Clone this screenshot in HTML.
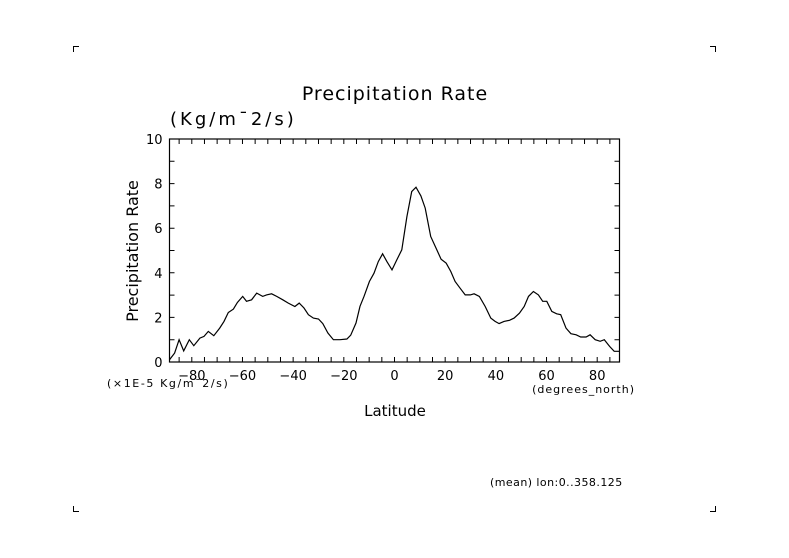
<!DOCTYPE html>
<html><head><meta charset="utf-8"><style>
body{margin:0;background:#fff;}
svg{display:block;font-family:"DejaVu Sans","Liberation Sans",sans-serif;}
</style></head><body>
<svg id="chart" width="789" height="558" viewBox="0 0 789 558" xmlns="http://www.w3.org/2000/svg">
<g stroke="#000" stroke-width="1" fill="none">
<path d="M73.5 52V46.5H79"/><path d="M710 46.5H715.5V52"/><path d="M73.5 506V511.5H79"/><path d="M710 511.5H715.5V506"/>
</g>
<text x="395" y="100" font-size="19" letter-spacing="1" text-anchor="middle">Precipitation Rate</text>
<text x="170" y="125" font-size="18" letter-spacing="3">(Kg/m¯2/s)</text>
<text x="0" y="0" font-size="16" text-anchor="middle" transform="translate(138,251) rotate(-90)">Precipitation Rate</text>
<text x="395" y="416" font-size="15" text-anchor="middle">Latitude</text>
<text x="107" y="387" font-size="11" letter-spacing="1.6">(×1E-5 Kg/m¯2/s)</text>
<text x="635" y="393" font-size="11" letter-spacing="1" text-anchor="end">(degrees_north)</text>
<text x="490" y="486" font-size="11" letter-spacing="0.45">(mean) lon:0..358.125</text>
<g id="axes"></g>
<g id="series"></g>
</svg>
<script>
const lats=[-88.8,-86.8,-85,-83.2,-81,-79.2,-76.8,-75.2,-73.5,-71.3,-69,-67.3,-65.6,-63.6,-62,-59.9,-58.4,-56.4,-54.4,-52,-50.5,-48.5,-46.5,-44.1,-41.9,-39.3,-37.6,-35.7,-34,-32,-30,-28.3,-26.3,-24.1,-21.5,-18.8,-17.3,-15.2,-13.6,-12,-9.9,-8.1,-6.4,-4.7,-3,-1,0.9,2.9,4.9,6.8,8.5,10.4,12.1,14.3,16.4,18.4,20.4,22.2,23.9,25.9,27.9,29.9,31.4,33.5,35.8,38,39.7,41.3,43.2,45.4,47.2,49.3,51.2,52.9,54.8,56.8,58.5,60.1,62.1,64,65.6,67.7,69.6,71.7,73.5,75.6,77.2,79.2,81.2,82.8,84.9,86.7,88.6];
const rates=[0.1,0.4,1.0,0.5,1.0,0.73,1.07,1.15,1.37,1.18,1.52,1.82,2.22,2.37,2.67,2.94,2.72,2.79,3.09,2.94,3.01,3.06,2.94,2.79,2.64,2.49,2.64,2.42,2.12,1.97,1.93,1.72,1.3,1.0,1.0,1.03,1.2,1.75,2.5,2.95,3.61,3.98,4.5,4.85,4.5,4.13,4.58,5.03,6.52,7.64,7.84,7.45,6.9,5.63,5.1,4.61,4.43,4.06,3.61,3.31,3.01,3.01,3.06,2.94,2.49,1.97,1.82,1.72,1.82,1.87,1.97,2.19,2.49,2.94,3.16,3.01,2.72,2.72,2.27,2.16,2.12,1.52,1.27,1.22,1.12,1.12,1.22,1.0,0.93,1.0,0.7,0.48,0.48];
const xTicks=[-80,-60,-40,-20,0,20,40,60,80];
const yTicks=[0,2,4,6,8,10];
const L=169.5,R=619.5,T=139,B=362,xMin=-88.8,xMax=88.8,yMin=0,yMax=10;
const X=v=>L+(v-xMin)/(xMax-xMin)*(R-L);
const Y=v=>B-(v-yMin)/(yMax-yMin)*(B-T);
const NS="http://www.w3.org/2000/svg";
const ax=document.getElementById('axes'),se=document.getElementById('series');
function mk(tag,at,parent){const e=document.createElementNS(NS,tag);for(const k in at)e.setAttribute(k,at[k]);parent.appendChild(e);return e;}
const frame=mk('rect',{x:L,y:T,width:R-L,height:B-T,fill:'none',stroke:'#000','stroke-width':1.2},ax);


let tp='';
for(let v=-85;v<=85;v+=5){const x=X(v);tp+=`M${x} ${B}v-5M${x} ${T}v5`;}
for(let v=0;v<=10;v+=1){const y=Y(v);tp+=`M${L} ${y}h5M${R} ${y}h-5`;}
const ticks=mk('path',{d:tp,stroke:'#000','stroke-width':1,fill:'none'},ax);


xTicks.forEach(v=>{const t=mk('text',{x:X(v),y:B+18,'font-size':13,'text-anchor':'middle'},ax);t.textContent=v<0?'\u2212'+(-v):String(v);

});
yTicks.forEach(v=>{const t=mk('text',{x:L-7,y:Y(v)+5,'font-size':13,'text-anchor':'end'},ax);t.textContent=String(v);

});
const line=mk('polyline',{points:lats.map((la,i)=>X(la).toFixed(1)+','+Y(rates[i]).toFixed(1)).join(' '),fill:'none',stroke:'#000','stroke-width':1.2},se);


</script>
</body></html>
